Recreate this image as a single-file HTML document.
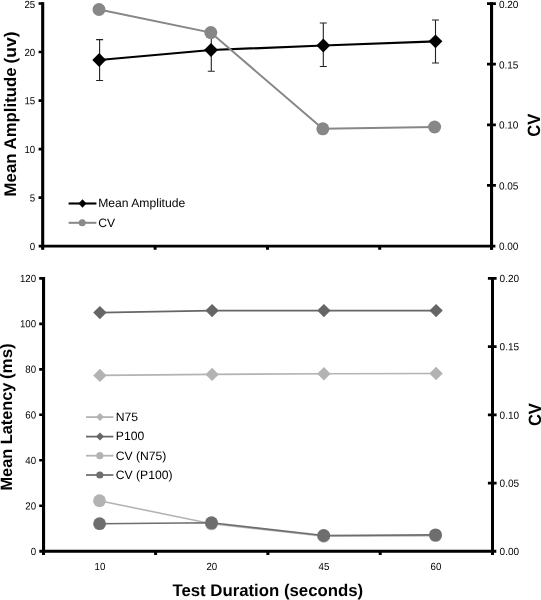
<!DOCTYPE html>
<html><head><meta charset="utf-8">
<style>
html,body{margin:0;padding:0;background:#fff;}
body{width:541px;height:600px;overflow:hidden;font-family:"Liberation Sans",sans-serif;}
svg{display:block;will-change:transform;}
text{text-rendering:geometricPrecision;font-family:"Liberation Sans",sans-serif;fill:#000;}
.tk{font-size:10.3px;}
.lg{font-size:12.15px;}
.ti{font-size:16.8px;font-weight:bold;}
</style></head><body>
<svg width="541" height="600" viewBox="0 0 541 600">
<rect width="541" height="600" fill="#fff"/>

<!-- ===== TOP CHART ===== -->
<g id="top">
<!-- error bars -->
<g stroke="#222" stroke-width="1.1" fill="none">
<path d="M99.6 39.6V80.5M96.1 39.6h7M96.1 80.5h7"/>
<path d="M211.3 29V71.2M207.8 29h7M207.8 71.2h7"/>
<path d="M323.3 23V66.5M319.8 23h7M319.8 66.5h7"/>
<path d="M435.5 20V63M432 20h7M432 63h7"/>
</g>
<!-- black series -->
<polyline points="99.2,60 211,50 323.3,45.5 435.5,41.3" fill="none" stroke="#000" stroke-width="2.2"/>
<g fill="#000">
<path d="M99.2 53.1l6.9 6.9l-6.9 6.9l-6.9-6.9z"/>
<path d="M211 43.1l6.9 6.9l-6.9 6.9l-6.9-6.9z"/>
<path d="M323.3 38.6l6.9 6.9l-6.9 6.9l-6.9-6.9z"/>
<path d="M435.5 34.4l6.9 6.9l-6.9 6.9l-6.9-6.9z"/>
</g>
<!-- grey CV series -->
<polyline points="99,9.5 210.8,32.6 322.8,128.8 434.6,127" fill="none" stroke="#878787" stroke-width="2"/>
<g fill="#878787">
<circle cx="99" cy="9.5" r="6.5"/><circle cx="210.8" cy="32.6" r="6.5"/><circle cx="322.8" cy="128.8" r="6.5"/><circle cx="434.6" cy="127" r="6.5"/>
</g>
<!-- axes -->
<g stroke="#000" fill="none">
<path d="M42.7 2.2V249.8" stroke-width="3.1"/>
<path d="M491.55 2.2V249.9" stroke-width="3.1"/>
<path d="M38.7 246.1H495.4" stroke-width="2.8"/>
<path d="M38.6 3.50H42.7M38.6 52.02H42.7M38.6 100.54H42.7M38.6 149.06H42.7M38.6 197.58H42.7" stroke-width="2.7"/>
<path d="M487 3.60H495.9M487 64.22H495.9M487 124.85H495.9M487 185.47H495.9" stroke-width="2.8"/>
<path d="M155.1 246V249.8M267.5 246V249.8M379.7 246V249.8" stroke-width="3"/>
</g>
<g class="tk" text-anchor="end"><text transform="translate(35.2 8) rotate(0.05) scale(0.94 1)">25</text><text transform="translate(35.2 56) rotate(0.05) scale(0.94 1)">20</text><text transform="translate(35.2 104.3) rotate(0.05) scale(0.94 1)">15</text><text transform="translate(35.2 153) rotate(0.05) scale(0.94 1)">10</text><text transform="translate(35.2 201.6) rotate(0.05) scale(0.94 1)">5</text><text transform="translate(35.2 250) rotate(0.05) scale(0.94 1)">0</text></g>
<g class="tk" text-anchor="start"><text transform="translate(498.9 8) rotate(0.05) scale(0.975 1)">0.20</text><text transform="translate(498.9 68.5) rotate(0.05) scale(0.975 1)">0.15</text><text transform="translate(498.9 128.6) rotate(0.05) scale(0.975 1)">0.10</text><text transform="translate(498.9 189.5) rotate(0.05) scale(0.975 1)">0.05</text><text transform="translate(498.9 249.8) rotate(0.05) scale(0.975 1)">0.00</text></g>
<!-- legend -->
<path d="M68.6 203.5H96.4" stroke="#000" stroke-width="2.1"/>
<path d="M82.5 199.3l4 4.2l-4 4.2l-4-4.2z" fill="#000"/>
<path d="M68.6 222.8H96.4" stroke="#878787" stroke-width="2"/>
<circle cx="82.2" cy="222.7" r="3.5" fill="#8a8a8a"/>
<text class="lg" x="98.2" y="207.3">Mean Amplitude</text>
<text class="lg" x="98.2" y="226.8">CV</text>
<!-- titles -->
<text class="ti" transform="translate(15.5 196.4) rotate(-90)">Mean Amplitude</text>
<text class="ti" transform="translate(15.5 63.5) rotate(-90) scale(1.04 1)">(uv)</text>
<text class="ti" style="font-size:17.8px" transform="translate(539.8 125.3) rotate(-90) scale(0.93 1)" text-anchor="middle">CV</text>
</g>

<!-- ===== BOTTOM CHART ===== -->
<g id="bot">
<!-- N75 -->
<polyline points="99.9,375.4 212.1,374.4 323.9,373.7 436.1,373.5" fill="none" stroke="#b3b3b3" stroke-width="1.6"/>
<g fill="#b3b3b3">
<path d="M99.9 368.7l6.7 6.7l-6.7 6.7l-6.7-6.7z"/>
<path d="M212.1 367.7l6.7 6.7l-6.7 6.7l-6.7-6.7z"/>
<path d="M323.9 367l6.7 6.7l-6.7 6.7l-6.7-6.7z"/>
<path d="M436.1 366.8l6.7 6.7l-6.7 6.7l-6.7-6.7z"/>
</g>
<!-- P100 -->
<polyline points="99.9,312.6 212.1,310.6 323.9,310.6 436.1,310.6" fill="none" stroke="#666" stroke-width="1.6"/>
<g fill="#666">
<path d="M99.9 305.9l6.7 6.7l-6.7 6.7l-6.7-6.7z"/>
<path d="M212.1 303.9l6.7 6.7l-6.7 6.7l-6.7-6.7z"/>
<path d="M323.9 303.9l6.7 6.7l-6.7 6.7l-6.7-6.7z"/>
<path d="M436.1 303.9l6.7 6.7l-6.7 6.7l-6.7-6.7z"/>
</g>
<!-- CV N75 -->
<polyline points="99.5,500.7 211.5,523.8 323.7,536.2 435.5,535.6" fill="none" stroke="#b3b3b3" stroke-width="1.6"/>
<g fill="#b3b3b3">
<circle cx="99.5" cy="500.7" r="6.4"/><circle cx="211.5" cy="523.8" r="6.5"/><circle cx="323.7" cy="536.2" r="6.5"/><circle cx="435.5" cy="535.6" r="6.5"/>
</g>
<!-- CV P100 -->
<polyline points="99.6,523.7 211.5,522.8 323.7,535.5 435.5,534.9" fill="none" stroke="#6e6e6e" stroke-width="1.6"/>
<g fill="#6e6e6e">
<circle cx="99.6" cy="523.7" r="6.4"/><circle cx="211.5" cy="522.8" r="6.5"/><circle cx="323.7" cy="535.5" r="6.5"/><circle cx="435.5" cy="534.9" r="6.5"/>
</g>
<!-- axes -->
<g stroke="#000" fill="none">
<path d="M43.55 277V555.1" stroke-width="3.1"/>
<path d="M492.5 277V554.9" stroke-width="3"/>
<path d="M39.3 551.25H496.3" stroke-width="2.9"/>
<path d="M39.2 278.30H43.5M39.2 323.79H43.5M39.2 369.28H43.5M39.2 414.77H43.5M39.2 460.26H43.5M39.2 505.75H43.5" stroke-width="2.7"/>
<path d="M487.9 278.40H496.6M487.9 346.61H496.6M487.9 414.82H496.6M487.9 483.03H496.6" stroke-width="2.8"/>
<path d="M155.6 551V555.1M267.9 551V555.1M380.2 551V555.1" stroke-width="3"/>
</g>
<g class="tk" text-anchor="end"><text transform="translate(36.1 282) rotate(0.05) scale(0.94 1)">120</text><text transform="translate(36.1 327.3) rotate(0.05) scale(0.94 1)">100</text><text transform="translate(36.1 372.8) rotate(0.05) scale(0.94 1)">80</text><text transform="translate(36.1 418.6) rotate(0.05) scale(0.94 1)">60</text><text transform="translate(36.1 464) rotate(0.05) scale(0.94 1)">40</text><text transform="translate(36.1 509.4) rotate(0.05) scale(0.94 1)">20</text><text transform="translate(36.1 555) rotate(0.05) scale(0.94 1)">0</text></g>
<g class="tk" text-anchor="start"><text transform="translate(499.6 282) rotate(0.05) scale(0.975 1)">0.20</text><text transform="translate(499.6 350.3) rotate(0.05) scale(0.975 1)">0.15</text><text transform="translate(499.6 418.8) rotate(0.05) scale(0.975 1)">0.10</text><text transform="translate(499.6 486.8) rotate(0.05) scale(0.975 1)">0.05</text><text transform="translate(499.6 555) rotate(0.05) scale(0.975 1)">0.00</text></g>
<g class="tk" text-anchor="middle" transform="translate(100 0) scale(0.94 1)"><text x="0" y="570">10</text></g><g class="tk" text-anchor="middle" transform="translate(211.8 0) scale(0.94 1)"><text x="0" y="570">20</text></g><g class="tk" text-anchor="middle" transform="translate(324 0) scale(0.94 1)"><text x="0" y="570">45</text></g><g class="tk" text-anchor="middle" transform="translate(436 0) scale(0.94 1)"><text x="0" y="570">60</text></g>
<!-- legend -->
<g stroke-width="1.75">
<path d="M86 417.1H113.4" stroke="#b3b3b3"/>
<path d="M86 436.6H113.4" stroke="#666"/>
<path d="M86 455.7H113.4" stroke="#b3b3b3"/>
<path d="M86 475H113.4" stroke="#6e6e6e"/>
</g>
<path d="M100 413.1l4 4l-4 4l-4-4z" fill="#b3b3b3"/>
<path d="M100 432.6l4 4l-4 4l-4-4z" fill="#666"/>
<circle cx="99.8" cy="455.7" r="3.6" fill="#b3b3b3"/>
<circle cx="99.8" cy="475" r="3.6" fill="#6e6e6e"/>
<g class="lg">
<text x="115.8" y="421.4">N75</text><text x="115.8" y="440.3">P100</text><text x="115.8" y="459.7">CV (N75)</text><text x="115.8" y="479">CV (P100)</text>
</g>
<text class="ti" style="font-size:16.4px" transform="translate(12.3 490.5) rotate(-90) scale(0.995 1)">Mean Latency</text>
<text class="ti" style="font-size:16.4px" transform="translate(12.3 379.1) rotate(-90) scale(1.035 1)">(ms)</text>
<text class="ti" style="font-size:17.8px" transform="translate(540.8 414.6) rotate(-90) scale(0.93 1)" text-anchor="middle">CV</text>
<text class="ti" x="267.8" y="596" text-anchor="middle">Test Duration (seconds)</text>
</g>
</svg>
</body></html>
